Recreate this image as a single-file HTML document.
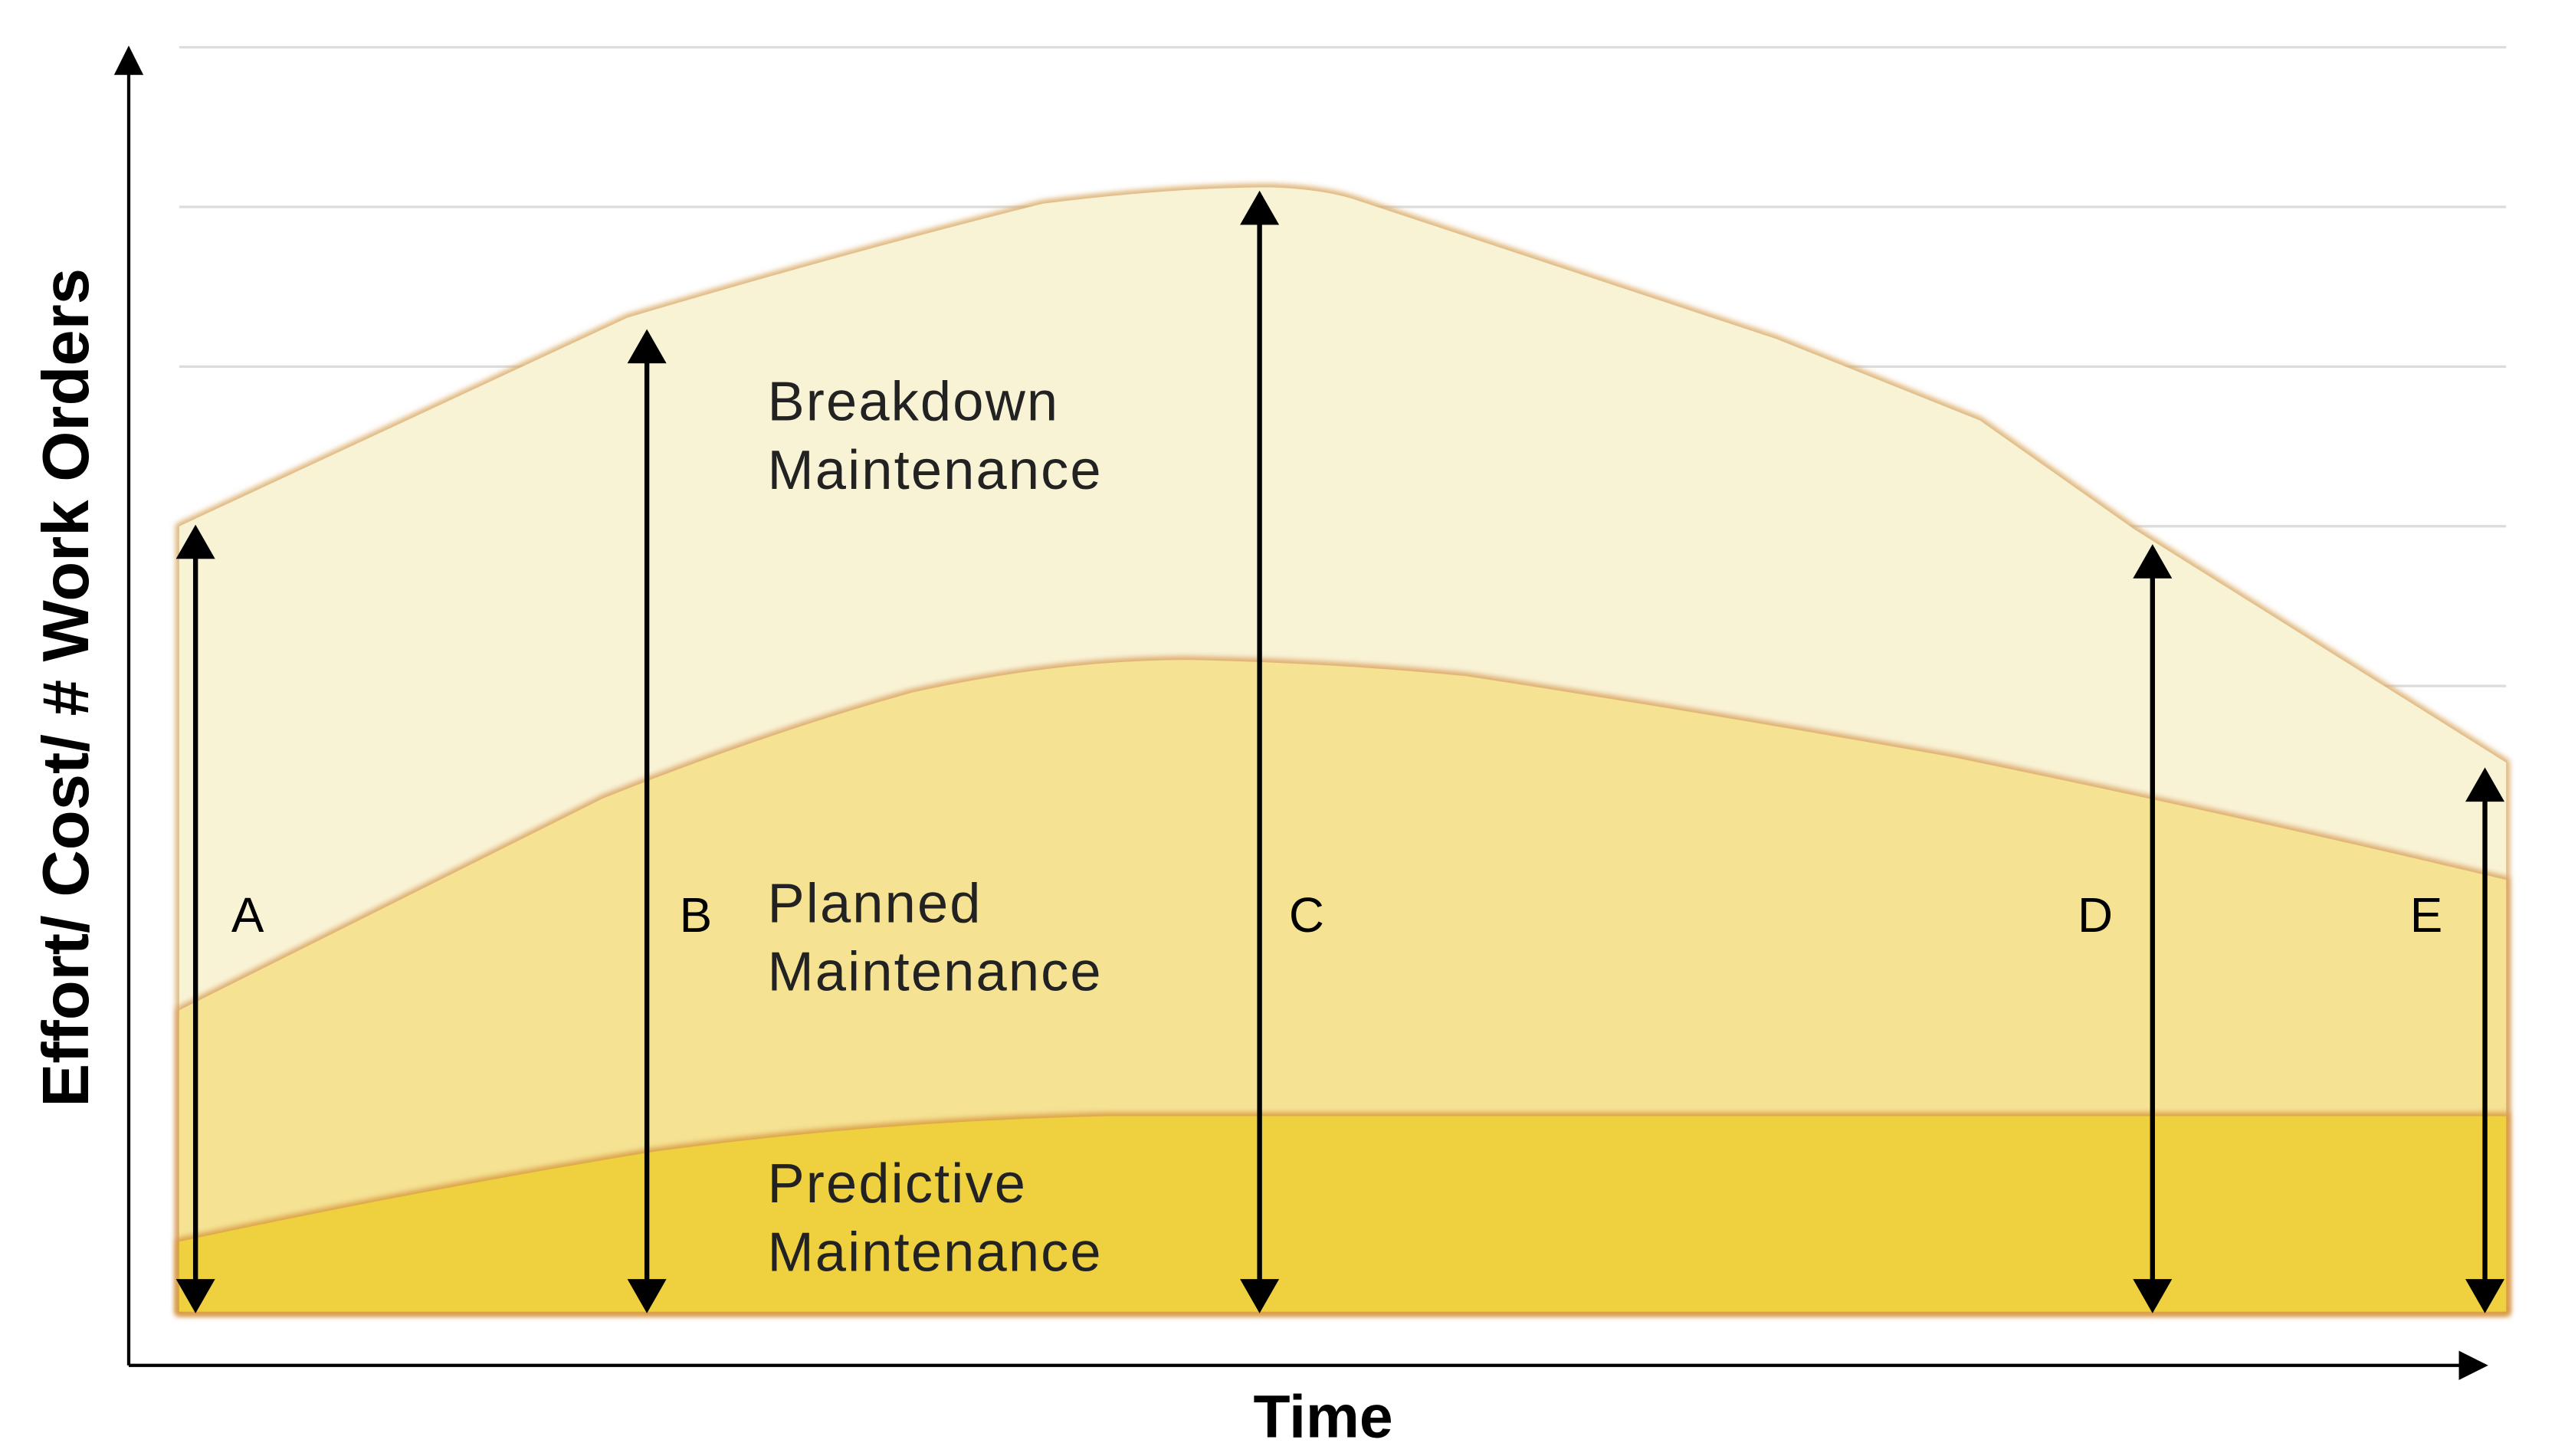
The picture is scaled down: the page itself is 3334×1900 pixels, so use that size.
<!DOCTYPE html>
<html><head><meta charset="utf-8"><style>
html,body{margin:0;padding:0;background:#fff;}
svg{display:block;}
text{font-family:"Liberation Sans",sans-serif;}
</style></head><body>
<svg width="3334" height="1900" viewBox="0 0 1568 893.6" preserveAspectRatio="none" xmlns="http://www.w3.org/2000/svg">
<defs>
<filter id="sh" x="-5%" y="-5%" width="110%" height="110%"><feGaussianBlur stdDeviation="1.8"/></filter>
</defs>
<g stroke="#dcdcdc" stroke-width="1.5">
<line x1="110" y1="29" x2="1538" y2="29"/>
<line x1="110" y1="127" x2="1538" y2="127"/>
<line x1="110" y1="225" x2="1538" y2="225"/>
<line x1="110" y1="323" x2="1538" y2="323"/>
<line x1="110" y1="421" x2="1538" y2="421"/>
</g>
<path d="M110,323 L385,195 Q520,155 640,125 Q720,115 780,115 Q810,116 830,122 L1090,208 L1215,258 L1310,325 L1538,468 L1538,805 L110,805 Z" fill="#f9f3d6" stroke="#d9a860" stroke-width="4" filter="url(#sh)"/>
<path d="M110,323 L385,195 Q520,155 640,125 Q720,115 780,115 Q810,116 830,122 L1090,208 L1215,258 L1310,325 L1538,468 L1538,805 L110,805 Z" fill="#f9f3d6"/>
<path d="M110,620 L370,490 Q470,450 560,425 Q650,405 730,405 Q820,407 900,415 Q1050,438 1200,465 Q1370,500 1538,540 L1538,805 L110,805 Z" fill="#f5e293" stroke="#d9a060" stroke-width="4" filter="url(#sh)"/>
<path d="M110,620 L370,490 Q470,450 560,425 Q650,405 730,405 Q820,407 900,415 Q1050,438 1200,465 Q1370,500 1538,540 L1538,805 L110,805 Z" fill="#f5e293"/>
<path d="M110,762 Q260,730 400,707 Q540,688 680,685 L1538,685 L1538,805 L110,805 Z" fill="#efd03f" stroke="#d89840" stroke-width="4" filter="url(#sh)"/>
<path d="M110,762 Q260,730 400,707 Q540,688 680,685 L1538,685 L1538,805 L110,805 Z" fill="#efd03f"/>
<!-- axes -->
<g stroke="#000" stroke-width="2">
<line x1="79" y1="838" x2="79" y2="44"/>
<line x1="79" y1="838" x2="1510" y2="838"/>
</g>
<polygon points="79,28 70,46 88,46" fill="#000"/>
<polygon points="1527,838 1509,829 1509,847" fill="#000"/>
<!-- arrows -->
<g stroke="#000" stroke-width="3">
<line x1="120" y1="340" x2="120" y2="788"/>
<line x1="397" y1="220" x2="397" y2="788"/>
<line x1="773" y1="135" x2="773" y2="788"/>
<line x1="1321" y1="352" x2="1321" y2="788"/>
<line x1="1525" y1="489" x2="1525" y2="788"/>
</g>
<g fill="#000">
<polygon points="120,322 108,343 132,343"/><polygon points="120,806 108,785 132,785"/>
<polygon points="397,202 385,223 409,223"/><polygon points="397,806 385,785 409,785"/>
<polygon points="773,117 761,138 785,138"/><polygon points="773,806 761,785 785,785"/>
<polygon points="1321,334 1309,355 1333,355"/><polygon points="1321,806 1309,785 1333,785"/>
<polygon points="1525,471 1513,492 1537,492"/><polygon points="1525,806 1513,785 1537,785"/>
</g>
<g font-size="30" fill="#000">
<text x="142" y="572">A</text>
<text x="417" y="572">B</text>
<text x="791" y="572">C</text>
<text x="1275" y="572">D</text>
<text x="1479" y="572">E</text>
</g>
<g font-size="34" fill="#222" letter-spacing="1">
<text x="471" y="258">Breakdown</text>
<text x="471" y="300">Maintenance</text>
<text x="471" y="566">Planned</text>
<text x="471" y="608">Maintenance</text>
<text x="471" y="738">Predictive</text>
<text x="471" y="780">Maintenance</text>
</g>
<text x="812" y="882" font-size="37" font-weight="bold" text-anchor="middle">Time</text>
<text transform="translate(54,422) rotate(-90)" font-size="40" font-weight="bold" text-anchor="middle">Effort/ Cost/ # Work Orders</text>
</svg>
</body></html>
